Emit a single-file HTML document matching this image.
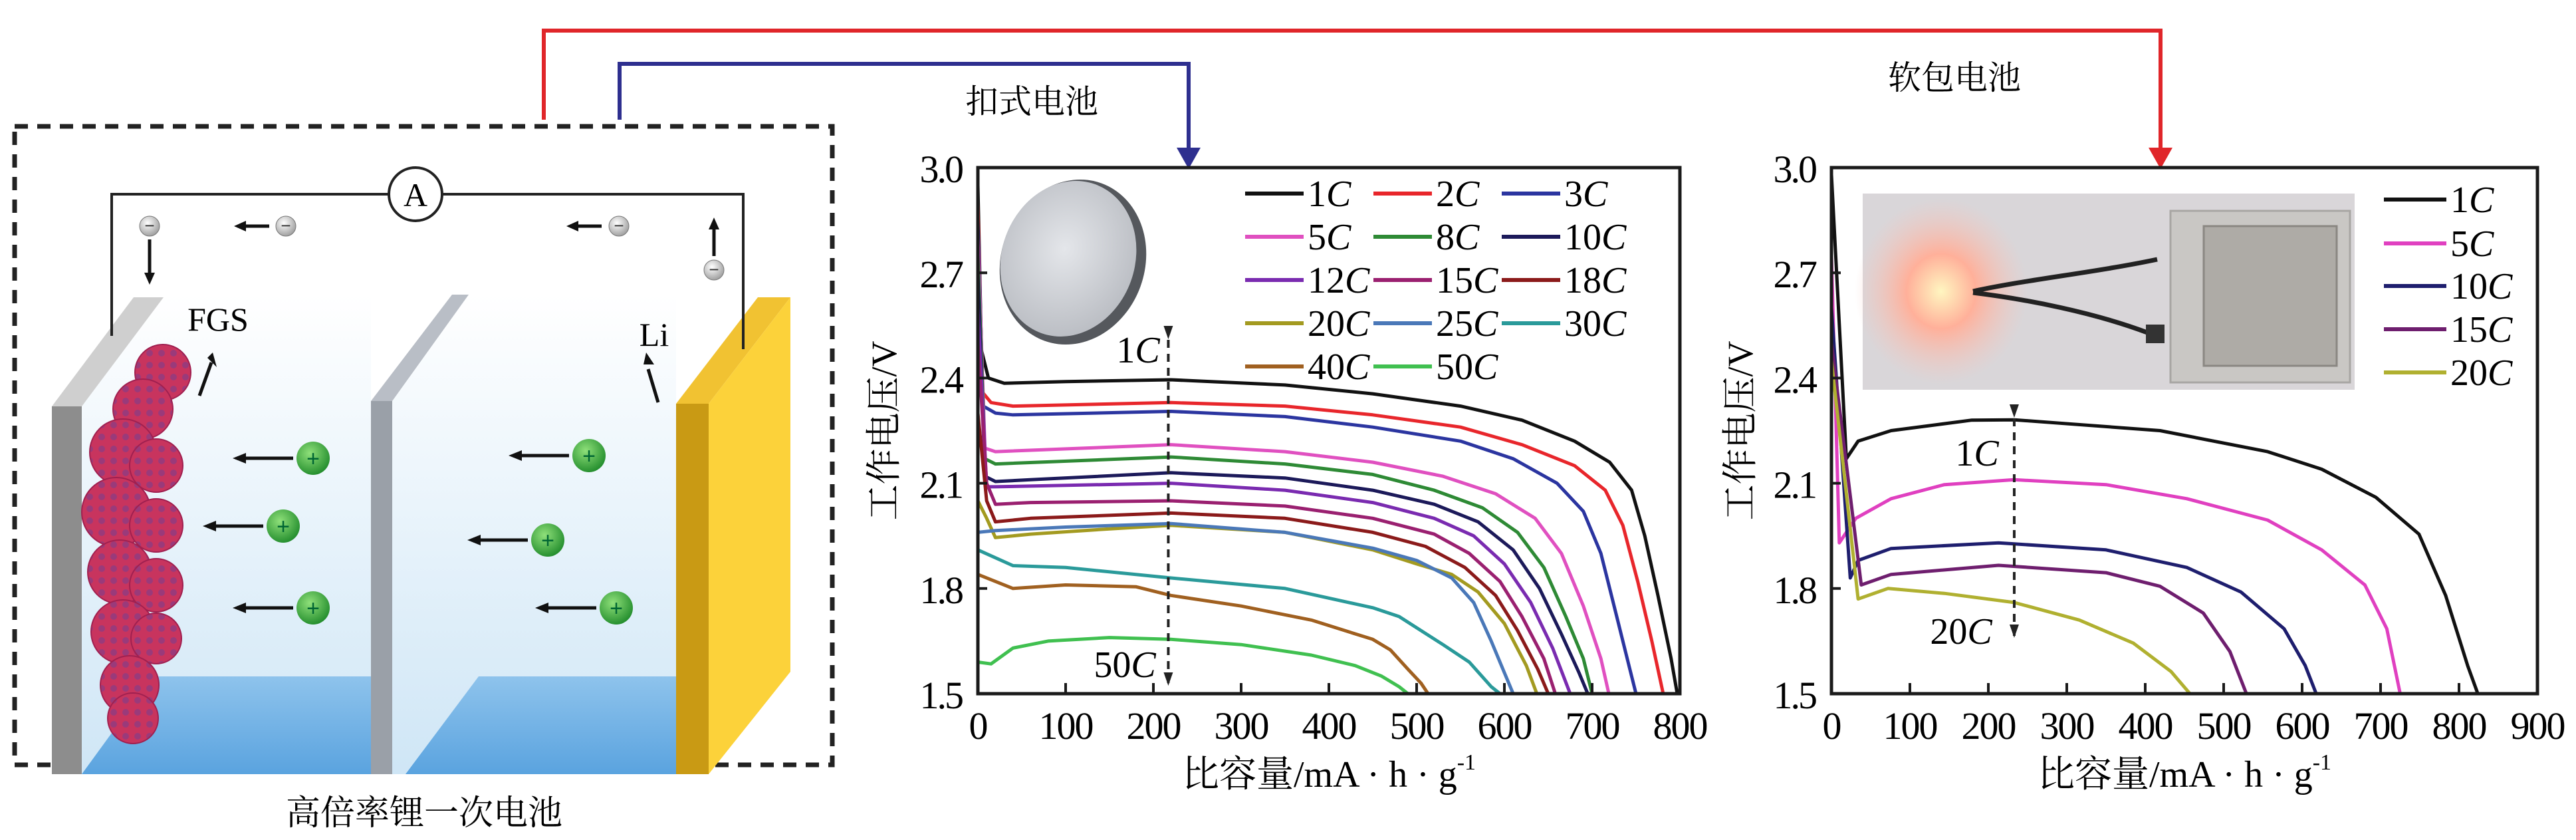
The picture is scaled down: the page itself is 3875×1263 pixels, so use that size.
<!DOCTYPE html>
<html><head><meta charset="utf-8">
<style>
html,body{margin:0;padding:0;background:#fff;}
svg{display:block;font-family:"Liberation Serif","Noto Serif CJK SC",serif;}
</style></head>
<body>
<svg id="fig" width="3875" height="1263" viewBox="0 0 3875 1263" xmlns="http://www.w3.org/2000/svg">
<defs>
<linearGradient id="liq" x1="0" y1="0" x2="0" y2="1"><stop offset="0" stop-color="#ffffff"/><stop offset="1" stop-color="#cfe6f6"/></linearGradient>
<linearGradient id="floor" x1="0" y1="0" x2="0" y2="1"><stop offset="0" stop-color="#8ec3ec"/><stop offset="1" stop-color="#5aa3df"/></linearGradient>
<radialGradient id="ion" cx="0.4" cy="0.35" r="0.7"><stop offset="0" stop-color="#8fe07a"/><stop offset="1" stop-color="#1f8a2a"/></radialGradient>
<radialGradient id="elec" cx="0.4" cy="0.35" r="0.7"><stop offset="0" stop-color="#ffffff"/><stop offset="1" stop-color="#9a9a9a"/></radialGradient>
<radialGradient id="coin" cx="0.45" cy="0.45" r="0.6"><stop offset="0" stop-color="#e4e6ea"/><stop offset="1" stop-color="#b9bcc2"/></radialGradient>
<radialGradient id="glow" cx="0.5" cy="0.5" r="0.5"><stop offset="0" stop-color="#fff6c0"/><stop offset="0.4" stop-color="#ffb09a"/><stop offset="1" stop-color="#f4c7c0" stop-opacity="0"/></radialGradient>
<pattern id="fgs" width="18" height="18" patternUnits="userSpaceOnUse"><rect width="18" height="18" fill="#c8345e"/><circle cx="9" cy="9" r="5" fill="#9a3a7a"/></pattern>
</defs>

<g>
<polyline points="818,180 818,46 3250,46 3250,232" fill="none" stroke="#e0262a" stroke-width="6"/>
<polygon points="3232,222 3268,222 3250,254" fill="#e0262a"/>
<polyline points="932,180 932,96 1788,96 1788,232" fill="none" stroke="#2e2f8f" stroke-width="6"/>
<polygon points="1770,222 1806,222 1788,254" fill="#2e2f8f"/>
</g>
<text x="1552" y="170" font-size="50" text-anchor="middle">扣式电池</text>
<text x="2940" y="134" font-size="50" text-anchor="middle">软包电池</text>

<g>
<rect x="22" y="190" width="1230" height="960" fill="none" stroke="#222" stroke-width="7" stroke-dasharray="20,14"/>
<polygon points="123,611 246,447 558,443 558,1164 123,1164" fill="url(#liq)"/>
<polygon points="590,603 705,443 1017,447 1017,1164 590,1164" fill="url(#liq)"/>
<polygon points="123,1164 230,1017 558,1017 558,1164" fill="url(#floor)"/>
<polygon points="610,1164 720,1017 1017,1017 1017,1164" fill="url(#floor)"/>
<polygon points="78,611 123,611 246,447 201,447" fill="#cfcfcf"/>
<rect x="78" y="611" width="45" height="553" fill="#8d8d8d"/>
<polygon points="558,603 590,603 705,443 680,443" fill="#b9bec6"/>
<rect x="558" y="603" width="32" height="561" fill="#9aa0a8"/>
<polygon points="1017,607 1066,607 1189,447 1140,447" fill="#f1c232"/>
<rect x="1017" y="607" width="49" height="557" fill="#c99a14"/>
<polygon points="1066,607 1189,447 1189,1010 1066,1164" fill="#fcd23a"/>
<g stroke="#a02050" stroke-width="2">
<circle cx="245" cy="560" r="42" fill="url(#fgs)"/><circle cx="215" cy="615" r="45" fill="url(#fgs)"/>
<circle cx="185" cy="680" r="50" fill="url(#fgs)"/><circle cx="235" cy="700" r="40" fill="url(#fgs)"/>
<circle cx="175" cy="770" r="52" fill="url(#fgs)"/><circle cx="235" cy="790" r="40" fill="url(#fgs)"/>
<circle cx="180" cy="860" r="48" fill="url(#fgs)"/><circle cx="235" cy="880" r="40" fill="url(#fgs)"/>
<circle cx="185" cy="950" r="48" fill="url(#fgs)"/><circle cx="235" cy="960" r="38" fill="url(#fgs)"/>
<circle cx="195" cy="1030" r="44" fill="url(#fgs)"/><circle cx="200" cy="1080" r="38" fill="url(#fgs)"/>
</g>
<polyline points="168,505 168,292 585,292" fill="none" stroke="#222" stroke-width="4"/>
<polyline points="665,292 1118,292 1118,525" fill="none" stroke="#222" stroke-width="4"/>
<circle cx="625" cy="292" r="40" fill="#fff" stroke="#222" stroke-width="4"/>
<text x="625" y="310" font-size="50" text-anchor="middle">A</text>
<text x="328" y="497" font-size="50" text-anchor="middle">FGS</text>
<text x="984" y="520" font-size="50" text-anchor="middle">Li</text>
<g stroke="#111" stroke-width="5" fill="none">
<line x1="300" y1="595" x2="318" y2="545"/><line x1="990" y1="605" x2="975" y2="555"/>
<line x1="225" y1="360" x2="225" y2="415"/><line x1="405" y1="340" x2="365" y2="340"/>
<line x1="905" y1="340" x2="865" y2="340"/><line x1="1074" y1="385" x2="1074" y2="340"/>
<line x1="441" y1="689" x2="365" y2="689"/><line x1="396" y1="791" x2="320" y2="791"/><line x1="441" y1="914" x2="365" y2="914"/>
<line x1="856" y1="685" x2="780" y2="685"/><line x1="794" y1="812" x2="718" y2="812"/><line x1="897" y1="914" x2="820" y2="914"/>
</g>
<g fill="#111">
<polygon points="312,538 326,552 320,530"/><polygon points="968,548 984,548 972,530"/>
<polygon points="217,410 233,410 225,428"/><polygon points="370,332 370,348 352,340"/>
<polygon points="870,332 870,348 852,340"/><polygon points="1066,345 1082,345 1074,327"/>
<polygon points="370,681 370,697 350,689"/><polygon points="325,783 325,799 305,791"/><polygon points="370,906 370,922 350,914"/>
<polygon points="785,677 785,693 765,685"/><polygon points="723,804 723,820 703,812"/><polygon points="825,906 825,922 805,914"/>
</g>
<g>
<circle cx="471" cy="689" r="25" fill="url(#ion)"/><circle cx="426" cy="791" r="25" fill="url(#ion)"/><circle cx="471" cy="914" r="25" fill="url(#ion)"/>
<circle cx="886" cy="685" r="25" fill="url(#ion)"/><circle cx="824" cy="812" r="25" fill="url(#ion)"/><circle cx="927" cy="914" r="25" fill="url(#ion)"/>
</g>
<g font-size="34" text-anchor="middle" fill="#063" font-family="Liberation Sans, sans-serif">
<text x="471" y="701">+</text><text x="426" y="803">+</text><text x="471" y="926">+</text>
<text x="886" y="697">+</text><text x="824" y="824">+</text><text x="927" y="926">+</text>
</g>
<g>
<circle cx="225" cy="340" r="15" fill="url(#elec)" stroke="#777"/><circle cx="430" cy="340" r="15" fill="url(#elec)" stroke="#777"/>
<circle cx="931" cy="340" r="15" fill="url(#elec)" stroke="#777"/><circle cx="1074" cy="406" r="15" fill="url(#elec)" stroke="#777"/>
</g>
<g font-size="26" text-anchor="middle" fill="#333" font-family="Liberation Sans, sans-serif">
<text x="225" y="348">−</text><text x="430" y="348">−</text><text x="931" y="348">−</text><text x="1074" y="414">−</text>
</g>
</g>
<text x="638" y="1240" font-size="52" text-anchor="middle">高倍率锂一次电池</text>

<g>
<ellipse cx="1614" cy="394" rx="108" ry="126" transform="rotate(20 1614 394)" fill="#55585d"/>
<ellipse cx="1607" cy="389" rx="100" ry="119" transform="rotate(20 1607 389)" fill="url(#coin)"/>
</g>
<g>
<rect x="2802" y="291" width="740" height="295" fill="#d9d6d9"/>
<ellipse cx="2920" cy="438" rx="130" ry="140" fill="url(#glow)"/>
<rect x="3265" y="317" width="270" height="258" fill="#c9c7c4" stroke="#a8a6a3" stroke-width="3"/>
<rect x="3315" y="340" width="200" height="210" fill="#aeaba6" stroke="#8a8782" stroke-width="3"/>
<path d="M2968,438 C3050,420 3150,410 3245,390" stroke="#222" stroke-width="7" fill="none"/>
<path d="M2968,440 C3050,450 3150,470 3230,500" stroke="#222" stroke-width="7" fill="none"/>
<rect x="3228" y="488" width="28" height="28" fill="#333"/>
</g>

<g id="chart1"></g>
<g id="chart2"></g>
</svg>

<script>
const c1Rates = ["1","2","3","5","8","10","12","15","18","20","25","30","40","50"];
const c1Colors = ["#111111","#e8262b","#2b35a0","#e050c0","#2e8a35","#1c1a5a","#7a2bb0","#9a2070","#8b1a1a","#a39a20","#4a78b8","#2a9a9a","#a06020","#40c050"];
const c1_1C  = [[0,2.95],[4,2.48],[12,2.40],[30,2.385],[100,2.39],[220,2.395],[350,2.38],[450,2.355],[550,2.32],[620,2.28],[680,2.22],[720,2.16],[745,2.08],[760,1.95],[775,1.78],[790,1.6],[797,1.5]];
const c1_2C  = [[0,2.9],[5,2.36],[15,2.33],[40,2.32],[220,2.33],[350,2.32],[450,2.295],[550,2.26],[620,2.21],[680,2.15],[715,2.08],[735,1.98],[752,1.82],[768,1.65],[781,1.5]];
const c1_3C  = [[0,2.85],[6,2.32],[20,2.30],[40,2.295],[220,2.305],[350,2.29],[450,2.26],[550,2.22],[610,2.17],[660,2.1],[690,2.02],[710,1.9],[728,1.72],[742,1.58],[750,1.5]];
const c1_5C  = [[0,2.8],[8,2.2],[20,2.19],[220,2.21],[350,2.19],[450,2.16],[530,2.12],[590,2.07],[635,2.0],[665,1.9],[690,1.75],[710,1.6],[719,1.5]];
const c1_8C  = [[0,2.75],[8,2.17],[20,2.155],[220,2.175],[350,2.155],[450,2.125],[520,2.08],[575,2.03],[615,1.96],[645,1.86],[670,1.72],[690,1.6],[700,1.5]];
const c1_10C = [[0,2.7],[8,2.12],[20,2.105],[60,2.11],[220,2.13],[350,2.115],[450,2.08],[520,2.04],[570,1.99],[610,1.91],[640,1.8],[665,1.67],[685,1.56],[695,1.5]];
const c1_12C = [[0,2.6],[10,2.09],[20,2.09],[220,2.10],[350,2.08],[450,2.045],[520,2.0],[565,1.95],[600,1.87],[630,1.76],[655,1.63],[675,1.5]];
const c1_15C = [[0,2.5],[10,2.1],[20,2.04],[60,2.045],[220,2.05],[350,2.035],[450,2.0],[520,1.955],[560,1.9],[595,1.82],[620,1.72],[645,1.6],[658,1.5]];
const c1_18C = [[0,2.3],[10,2.05],[20,1.99],[60,2.0],[220,2.015],[350,2.0],[450,1.96],[510,1.92],[555,1.86],[590,1.78],[615,1.68],[638,1.57],[650,1.5]];
const c1_20C = [[0,2.05],[10,2.0],[20,1.945],[60,1.955],[150,1.97],[220,1.98],[350,1.96],[450,1.91],[500,1.87],[540,1.84],[570,1.79],[600,1.7],[625,1.58],[637,1.5]];
const c1_25C = [[0,1.96],[20,1.965],[100,1.975],[220,1.985],[350,1.96],[450,1.915],[500,1.88],[540,1.83],[565,1.76],[585,1.65],[600,1.56],[610,1.5]];
const c1_30C = [[0,1.91],[40,1.865],[100,1.86],[220,1.83],[350,1.8],[450,1.745],[480,1.72],[530,1.64],[560,1.59],[585,1.52],[595,1.5]];
const c1_40C = [[0,1.84],[40,1.8],[100,1.81],[180,1.805],[220,1.78],[300,1.75],[380,1.71],[450,1.655],[470,1.625],[490,1.57],[505,1.53],[513,1.5]];
const c1_50C = [[0,1.59],[15,1.585],[40,1.63],[80,1.65],[150,1.66],[220,1.655],[300,1.64],[380,1.61],[430,1.58],[460,1.55],[480,1.52],[490,1.5]];
const c1Series = [c1_1C,c1_2C,c1_3C,c1_5C,c1_8C,c1_10C,c1_12C,c1_15C,c1_18C,c1_20C,c1_25C,c1_30C,c1_40C,c1_50C];
const c1XTicks = [0,100,200,300,400,500,600,700,800];
const yTicks = [1.5,1.8,2.1,2.4,2.7,3.0];

const c2Rates = ["1","5","10","15","20"];
const c2Colors = ["#111111","#e040c0","#1e1e6e","#6e1e6e","#b0b030"];
const c2_1C  = [[0,2.98],[19,2.17],[34,2.22],[76,2.25],[179,2.28],[233,2.281],[419,2.25],[556,2.19],[625,2.14],[694,2.06],[749,1.955],[783,1.78],[811,1.58],[824,1.5]];
const c2_5C  = [[0,2.75],[10,1.93],[31,2.0],[76,2.056],[144,2.096],[233,2.11],[350,2.096],[453,2.056],[556,1.995],[625,1.91],[680,1.81],[708,1.685],[725,1.5]];
const c2_10C = [[0,2.6],[24,1.83],[34,1.88],[76,1.914],[213,1.93],[350,1.91],[453,1.86],[522,1.79],[577,1.685],[604,1.58],[618,1.5]];
const c2_15C = [[0,2.5],[38,1.81],[76,1.84],[213,1.866],[350,1.845],[419,1.806],[474,1.73],[508,1.62],[529,1.5]];
const c2_20C = [[0,2.45],[34,1.77],[72,1.80],[144,1.786],[233,1.76],[316,1.71],[385,1.644],[433,1.563],[457,1.5]];
const c2Series = [c2_1C,c2_5C,c2_10C,c2_15C,c2_20C];
const c2XTicks = [0,100,200,300,400,500,600,700,800,900];

const NS = "http://www.w3.org/2000/svg";
function mk(parent, tag, attrs){ const e=document.createElementNS(NS,tag); for(const k in attrs) e.setAttribute(k,attrs[k]); parent.appendChild(e); return e; }

function drawChart(g, cfg){
  const {L,R,T,B,xmax,xticks,series,colors} = cfg;
  const xs = v => L + (v/xmax)*(R-L);
  const ys = v => B - (v-1.5)/1.5*(B-T);
  series.forEach((s,i)=>{
    const p = mk(g,'polyline',{points:s.map(d=>xs(d[0]).toFixed(1)+','+ys(d[1]).toFixed(1)).join(' '),fill:'none',stroke:colors[i],'stroke-width':5,'stroke-linejoin':'round'});
    
    
  });
  const fr = mk(g,'rect',{x:L,y:T,width:R-L,height:B-T,fill:'none',stroke:'#1a1a1a','stroke-width':5});
  
  
  xticks.forEach(t=>{
    const x = xs(t);
    const tk = mk(g,'line',{x1:x,y1:B,x2:x,y2:B-16,stroke:'#1a1a1a','stroke-width':4});
    
    
    const tl = mk(g,'text',{x:x,y:B+68,'font-size':58,'text-anchor':'middle','letter-spacing':-2});
    tl.textContent = t;
    
    
  });
  yTicks.forEach(t=>{
    const y = ys(t);
    const tk = mk(g,'line',{x1:L,y1:y,x2:L+14,y2:y,stroke:'#1a1a1a','stroke-width':4});
    
    
    const tl = mk(g,'text',{x:L-24,y:y+22,'font-size':58,'text-anchor':'end','letter-spacing':-3});
    tl.textContent = t.toFixed(1);
    
    
  });
  const yt = mk(g,'text',{x:0,y:0,'font-size':54,'text-anchor':'middle',transform:`translate(${cfg.ytx},${(T+B)/2}) rotate(-90)`});
  yt.textContent = '工作电压/V';
  
  
  const xt = mk(g,'text',{x:(L+R)/2,y:B+140,'font-size':56,'text-anchor':'middle'});
  xt.innerHTML = '比容量/mA · h · g<tspan font-size="34" dy="-26">-1</tspan>';
  
  
  cfg.legendPos.forEach((pos,i)=>{
    const ln = mk(g,'line',{x1:pos[0],y1:pos[1],x2:pos[0]+cfg.legLen,y2:pos[1],stroke:colors[i],'stroke-width':6});
    
    
    const tx = mk(g,'text',{x:pos[0]+cfg.legLen+6,y:pos[1]+19,'font-size':56});
    tx.innerHTML = cfg.rates[i]+'<tspan font-style="italic">C</tspan>';
    
    
  });
  const a = cfg.ann;
  const al = mk(g,'line',{x1:xs(a.x),y1:a.y1,x2:xs(a.x),y2:a.y2,stroke:'#222','stroke-width':4,'stroke-dasharray':'12,9'});
  
  
  const hx = xs(a.x);
  const h1 = mk(g,'polygon',{points:`${hx-7},${a.y1} ${hx+7},${a.y1} ${hx},${a.y1+20}`,fill:'#222'});
  
  
  const h2 = mk(g,'polygon',{points:`${hx-7},${a.y2-20} ${hx+7},${a.y2-20} ${hx},${a.y2}`,fill:'#222'});
  
  
  const t1 = mk(g,'text',{x:a.l1[0],y:a.l1[1],'font-size':56,'text-anchor':'middle'});
  t1.innerHTML = a.l1[2]+'<tspan font-style="italic">C</tspan>';
  
  
  const t2 = mk(g,'text',{x:a.l2[0],y:a.l2[1],'font-size':56,'text-anchor':'middle'});
  t2.innerHTML = a.l2[2]+'<tspan font-style="italic">C</tspan>';
  
  
}

const c1Leg = [];
const colX = [1873,2066,2259];
for(let i=0;i<14;i++){ c1Leg.push([colX[i%3], 291+Math.floor(i/3)*65]); }
drawChart(document.getElementById('chart1'),{
  L:1471,R:2527,T:252,B:1043,xmax:800,xticks:c1XTicks,series:c1Series,colors:c1Colors,rates:c1Rates,
  ytx:1348,legLen:88,legendPos:c1Leg,
  ann:{x:217,y1:490,y2:1031,l1:[1712,545,'1'],l2:[1692,1018,'50']}
});
const c2Leg = [[3586,300],[3586,366],[3586,430],[3586,495],[3586,560]];
drawChart(document.getElementById('chart2'),{
  L:2755,R:3817,T:252,B:1043,xmax:900,xticks:c2XTicks,series:c2Series,colors:c2Colors,rates:c2Rates,
  ytx:2636,legLen:94,legendPos:c2Leg,
  ann:{x:233,y1:608,y2:959,l1:[2974,700,'1'],l2:[2950,968,'20']}
});
</script>
</body></html>
